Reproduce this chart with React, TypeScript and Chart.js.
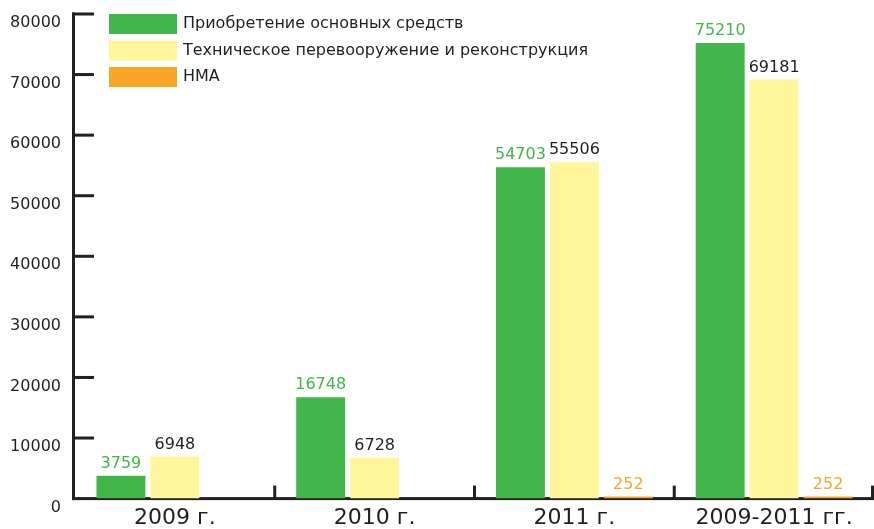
import React, { useEffect, useRef } from 'react';
import { Chart, registerables } from 'chart.js';

Chart.register(...registerables);

const categories = ['2009 г.', '2010 г.', '2011 г.', '2009-2011 гг.'];
const seriesNames = [
  'Приобретение основных средств',
  'Техническое перевооружение и реконструкция',
  'НМА',
];
const fixedAssets = [3759, 16748, 54703, 75210];
const reequipment = [6948, 6728, 55506, 69181];
const intangibles = [null, null, 252, 252];
const yTickValues = [0, 10000, 20000, 30000, 40000, 50000, 60000, 70000, 80000];

const GREEN = '#42b64a';
const YELLOW = '#fff59b';
const ORANGE = '#f8a628';
const DARK = '#231f20';
const FONT = "'DejaVu Sans', Verdana, sans-serif";

const labelColors = [GREEN, DARK, ORANGE];

const axesPlugin = {
  id: 'customAxes',
  beforeDatasetsDraw(chart: any) {
    const { ctx, chartArea, scales } = chart;
    const y = scales.y;
    const x = scales.x;
    const base = y.getPixelForValue(0);
    ctx.save();
    ctx.fillStyle = DARK;
    const top = y.getPixelForValue(80000);
    ctx.fillRect(chartArea.left - 3, top - 1.5, 3, base - top + 3);
    yTickValues.forEach((v) => {
      if (v === 0) return;
      const py = y.getPixelForValue(v);
      ctx.fillRect(chartArea.left - 3, py - 1.5, 22, 3);
    });
    ctx.fillRect(chartArea.left - 3, base - 1.5, chartArea.right - chartArea.left + 3, 3);
    const n = categories.length;
    for (let i = 0; i < n; i++) {
      let bx;
      if (i < n - 1) {
        bx = (x.getPixelForValue(i) + x.getPixelForValue(i + 1)) / 2;
      } else {
        bx = chartArea.right - 1.5;
      }
      ctx.fillRect(bx - 1.5, base - 13, 3, 13);
    }
    ctx.restore();
  },
  afterDatasetsDraw(chart: any) {
    const { ctx } = chart;
    ctx.save();
    ctx.font = `16px ${FONT}`;
    ctx.textAlign = 'center';
    ctx.textBaseline = 'alphabetic';
    chart.data.datasets.forEach((ds: any, di: number) => {
      const meta = chart.getDatasetMeta(di);
      ctx.fillStyle = labelColors[di];
      meta.data.forEach((el: any, i: number) => {
        const v = ds.data[i];
        if (v === null || v === undefined) return;
        ctx.fillText(String(v), el.x, el.y - 8);
      });
    });
    ctx.restore();
  },
  afterDraw(chart: any) {
    const { ctx, chartArea } = chart;
    ctx.save();
    ctx.font = `16px ${FONT}`;
    ctx.textAlign = 'left';
    ctx.textBaseline = 'middle';
    const left = chartArea.left + 34;
    chart.data.datasets.forEach((ds: any, di: number) => {
      const top = chartArea.top + di * 26.5;
      ctx.fillStyle = ds.backgroundColor;
      ctx.fillRect(left, top, 68, 20);
      ctx.fillStyle = DARK;
      ctx.fillText(ds.label, left + 74, top + 10);
    });
    ctx.restore();
  },
};

export default function App() {
  const ref = useRef<HTMLCanvasElement>(null);
  useEffect(() => {
    document.body.style.margin = '0';
    const chart = new Chart(ref.current as HTMLCanvasElement, {
      type: 'bar',
      data: {
        labels: categories,
        datasets: [
          { label: seriesNames[0], data: fixedAssets, backgroundColor: GREEN },
          { label: seriesNames[1], data: reequipment, backgroundColor: YELLOW },
          { label: seriesNames[2], data: intangibles as any, backgroundColor: ORANGE, minBarLength: 2 } as any,
        ],
      },
      options: {
        animation: false,
        responsive: false,
        layout: { padding: { left: 0, top: 14, right: 0, bottom: 0 } },
        plugins: { legend: { display: false }, tooltip: { enabled: false } },
        datasets: { bar: { categoryPercentage: 0.81, barPercentage: 0.907 } } as any,
        scales: {
          x: {
            grid: { display: false, drawTicks: false },
            border: { display: false },
            ticks: { padding: 6, color: DARK, font: { family: FONT, size: 22 } },
            afterFit: (axis: any) => {
              axis.paddingLeft = 0;
              axis.paddingRight = 0;
            },
          },
          y: {
            min: 0,
            max: 80000,
            grid: { display: false, drawTicks: false },
            border: { display: false },
            afterBuildTicks: (axis: any) => {
              axis.ticks = yTickValues.map((v) => ({ value: v }));
            },
            afterFit: (axis: any) => {
              axis.width = 75;
              axis.paddingTop = 0;
              axis.paddingBottom = 0;
            },
            ticks: {
              padding: 14,
              labelOffset: 9,
              color: DARK,
              font: { family: FONT, size: 16 },
              callback: (v: any) => String(v),
            },
          },
        },
      },
      plugins: [axesPlugin],
    });
    return () => chart.destroy();
  }, []);
  return (
    <div style={{ position: 'absolute', left: 0, top: 0, width: 874, height: 529, overflow: 'hidden' }}>
      <canvas ref={ref} width={874} height={537} style={{ display: 'block' }} />
    </div>
  );
}
